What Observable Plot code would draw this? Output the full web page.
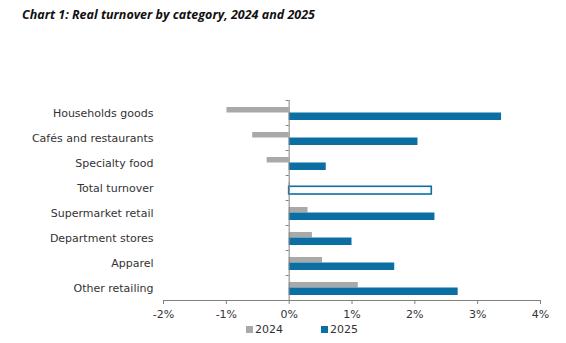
<!DOCTYPE html>
<html>
<head>
<meta charset="utf-8">
<script src="https://cdn.jsdelivr.net/npm/d3@7"></script>
<script src="https://cdn.jsdelivr.net/npm/@observablehq/plot@0.6"></script>
<style>
  body { margin: 0; background: #fff; width: 566px; height: 343px; overflow: hidden; }
  #title { font-family: "Open Sans", sans-serif; font-weight: 700; font-style: italic; font-size: 12.5px; color: #111; height: 30px; line-height: 30px; padding-left: 22px; }
  #legend { display: flex; align-items: center; height: 14px; padding-left: 246px; font-family: "DejaVu Sans", sans-serif; font-size: 11px; color: #333; }
  .item { display: flex; align-items: center; }
  .sw { width: 7px; height: 7px; margin-right: 2px; }
</style>
</head>
<body>
<div id="title">Chart 1: Real turnover by category, 2024 and 2025</div>
<div id="chart"></div>
<div id="legend"></div>
<script>
const categories = ["Households goods","Cafés and restaurants","Specialty food","Total turnover","Supermarket retail","Department stores","Apparel","Other retailing"];
const values2024 = [-0.99,-0.58,-0.35,0.02,0.30,0.37,0.53,1.10];
const values2025 = [3.38,2.05,0.59,2.27,2.32,1.00,1.68,2.69];
const series = ["2024","2025"];
const colors = ["#A9A9A9","#0B6FA4"];
const xTicks = [-2,-1,0,1,2,3,4];
const totalCategory = "Total turnover";

const d24 = categories.map((c,i) => ({c, v: values2024[i]}));
const d25 = categories.map((c,i) => ({c, v: values2025[i]}));
const axisColor = "#808080";

const chart = Plot.plot({
  width: 566, height: 292,
  marginLeft: 163, marginRight: 26, marginTop: 70, marginBottom: 22,
  style: {fontFamily: "DejaVu Sans", fontSize: "11px", color: "#333", background: "#fff"},
  x: {domain: [-2, 4], label: null},
  y: {domain: categories, padding: 0, label: null},
  marks: [
    Plot.barX(d24, {x: "v", y: "c", fill: colors[0], insetTop: 7, insetBottom: 12.5}),
    Plot.barX(d25.filter(d => d.c !== totalCategory), {x: "v", y: "c", fill: colors[1], insetTop: 12.5, insetBottom: 5}),
    Plot.barX(d25.filter(d => d.c === totalCategory), {x: "v", y: "c", fill: "white", stroke: colors[1], strokeWidth: 1.6, insetTop: 11.3, insetBottom: 6}),
    Plot.ruleX([0], {stroke: axisColor}),
    Plot.ruleY(categories, {y: d => d, dy: -12.5, x1: -0.048, x2: 0, stroke: axisColor}),
    Plot.ruleY([categories[categories.length - 1]], {y: d => d, dy: 12.5, x1: -2, x2: 4, stroke: axisColor}),
    Plot.axisX({ticks: xTicks, tickFormat: d => d + "%", label: null, tickSize: 4, tickPadding: 6, stroke: axisColor, fill: "#333"}),
    Plot.axisY({label: null, tickSize: 0, tickPadding: 10, fill: "#333"})
  ]
});
document.getElementById("chart").appendChild(chart);

const legend = document.getElementById("legend");
series.forEach((s, i) => {
  const item = document.createElement("div");
  item.className = "item";
  if (i < series.length - 1) item.style.marginRight = "38px";
  const sw = document.createElement("span");
  sw.className = "sw";
  sw.style.background = colors[i];
  const t = document.createElement("span");
  t.textContent = s;
  item.appendChild(sw); item.appendChild(t);
  legend.appendChild(item);
});
</script>
</body>
</html>
